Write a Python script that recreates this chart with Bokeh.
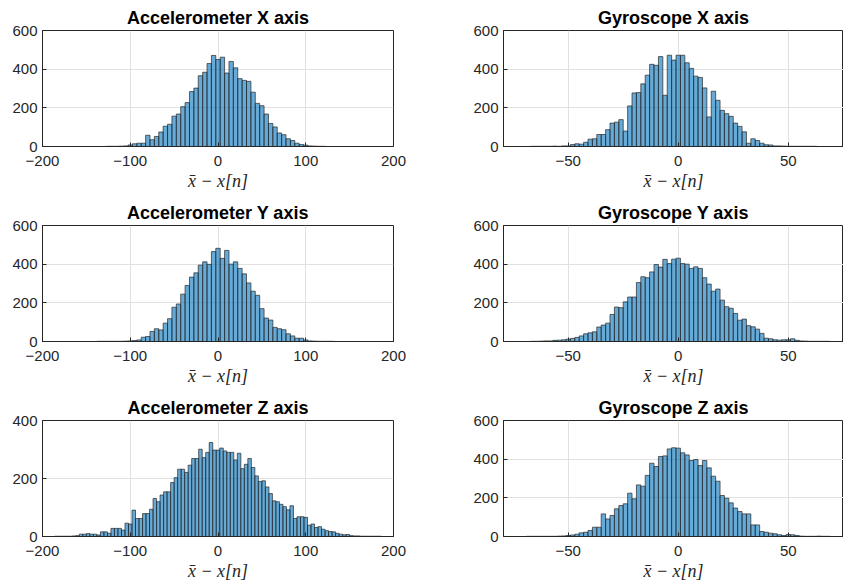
import numpy as np
from bokeh.plotting import figure
from bokeh.models import Range1d, FixedTicker
from bokeh.layouts import row, column
from bokeh.embed import file_html
from bokeh.resources import INLINE

# ---------------- data (histogram counts) ----------------
# Accelerometer X : bin width 5, first bin centred at -125
acc_x_first = -125
acc_x_bin = 5
acc_x_counts = [1, 1, 1, 2, 3, 8, 14, 17, 17, 58,
                35, 52, 75, 105, 115, 157, 168, 206, 227, 284,
                302, 366, 384, 429, 471, 450, 462, 380, 440, 407,
                351, 342, 337, 281, 223, 211, 168, 119, 101, 70,
                61, 40, 31, 17, 10, 7, 3, 2, 1, 1]

# Accelerometer Y : bin width 5, first bin centred at -135
acc_y_first = -135
acc_y_bin = 5
acc_y_counts = [1, 1, 1, 1, 1, 1, 2, 3, 5, 8,
                22, 26, 52, 66, 60, 95, 118, 177, 194, 245,
                290, 333, 355, 395, 412, 399, 465, 482, 430, 471,
                400, 412, 378, 350, 303, 260, 239, 170, 121, 111,
                73, 66, 61, 40, 29, 17, 17, 8, 3, 2,
                1, 1, 1, 1]

# Accelerometer Z : bin width 4, first bin centred at -184
acc_z_first = -184
acc_z_bin = 4
acc_z_counts = [1, 1, 1, 1, 1, 2, 3, 8, 8, 10,
                8, 8, 5, 16, 16, 11, 28, 28, 28, 22,
                46, 43, 91, 62, 62, 79, 79, 94, 131, 120,
                143, 154, 154, 186, 203, 232, 232, 221, 246, 269,
                269, 301, 272, 290, 324, 298, 298, 305, 295, 290,
                290, 264, 287, 234, 249, 269, 238, 209, 190, 192,
                171, 148, 123, 120, 111, 103, 92, 106, 62, 68,
                68, 66, 39, 43, 31, 34, 25, 20, 17, 16,
                11, 8, 6, 7, 3, 2, 2, 1, 1, 1,
                1, 1, 1]

# Gyroscope X : bin width 2, first bin centred at -66
gyr_x_first = -66
gyr_x_bin = 2
gyr_x_counts = [1, 1, 1, 1, 1, 2, 1, 3, 3, 10,
                14, 12, 22, 38, 40, 62, 62, 87, 121, 126,
                139, 80, 210, 277, 279, 324, 369, 425, 420, 465,
                265, 472, 447, 472, 472, 433, 404, 364, 357, 303,
                153, 286, 239, 187, 170, 156, 121, 104, 76, 17,
                40, 31, 17, 9, 8, 3, 3, 2, 1, 1,
                1, 1, 1, 1, 1]

# Gyroscope Y : bin width 2, first bin centred at -66
gyr_y_first = -66
gyr_y_bin = 2
gyr_y_counts = [1, 1, 2, 3, 3, 6, 7, 9, 12, 16,
                21, 29, 40, 45, 50, 75, 85, 95, 140, 178,
                175, 205, 230, 230, 305, 335, 330, 360, 398, 385,
                425, 403, 426, 431, 403, 400, 378, 386, 378, 330,
                297, 260, 271, 214, 180, 172, 145, 110, 116, 82,
                76, 64, 42, 17, 14, 9, 7, 9, 9, 14,
                6, 3, 2, 1, 1, 1, 1, 1]

# Gyroscope Z : bin width 2, first bin centred at -68
gyr_z_first = -68
gyr_z_bin = 2
gyr_z_counts = [1, 1, 1, 1, 1, 1, 1, 2, 3, 5,
                8, 12, 19, 22, 31, 48, 48, 117, 91, 109,
                143, 160, 169, 224, 195, 267, 260, 316, 379, 362,
                414, 417, 453, 459, 457, 433, 422, 393, 398, 367,
                393, 355, 312, 286, 212, 198, 174, 147, 129, 117,
                117, 60, 60, 26, 22, 17, 14, 9, 5, 10,
                9, 5, 2, 1, 1, 1, 2, 1, 1]

titles = ["Accelerometer X axis", "Gyroscope X axis",
          "Accelerometer Y axis", "Gyroscope Y axis",
          "Accelerometer Z axis", "Gyroscope Z axis"]
acc_xticks = [-200, -100, 0, 100, 200]
gyr_xticks = [-50, 0, 50]
yticks_600 = [0, 200, 400, 600]
yticks_400 = [0, 200, 400]
x_label = "x\u0304 \u2212 x[n]"

# ---------------- styling ----------------
AX = "#262626"
GRID = "#e1e1e1"
FILL = "#0072BD"
SANS = "Liberation Sans"


def make(title, first, binw, counts, xr, xticks, ymax, yticks, col, rowi):
    if col == 0:
        fw, lb, rb = 351, 42, 75
    else:
        fw, lb, rb = 340, 35, 0
    bb = 49 if rowi < 2 else 50
    p = figure(frame_width=fw, frame_height=116,
               x_range=Range1d(*xr), y_range=Range1d(0, ymax),
               output_backend="svg", toolbar_location=None,
               min_border_left=lb, min_border_right=rb,
               min_border_top=30, min_border_bottom=bb,
               title=title)
    p.background_fill_color = "white"
    p.border_fill_color = "white"
    p.outline_line_color = AX
    p.outline_line_width = 1

    p.title.align = "center"
    p.title.text_font = SANS
    p.title.text_font_size = "18px"
    p.title.text_font_style = "bold"
    p.title.text_color = "black"
    p.title.standoff = 5

    centers = first + binw * np.arange(len(counts))
    p.quad(left=centers - binw / 2, right=centers + binw / 2,
           bottom=0, top=counts,
           fill_color=FILL, fill_alpha=0.6,
           line_color=AX, line_width=0.7)

    p.xaxis.ticker = FixedTicker(ticks=xticks)
    p.yaxis.ticker = FixedTicker(ticks=yticks)
    for ax in (p.xaxis, p.yaxis):
        ax.major_tick_in = 4
        ax.major_tick_out = 0
        ax.minor_tick_line_color = None
        ax.axis_line_color = AX
        ax.major_tick_line_color = AX
        ax.major_label_text_color = AX
        ax.major_label_text_font = SANS
        ax.major_label_text_font_size = "15px"
    p.xaxis.major_label_standoff = 9
    p.yaxis.major_label_standoff = 5
    p.xaxis.axis_label = x_label
    p.xaxis.axis_label_text_font = "Liberation Serif"
    p.xaxis.axis_label_text_font_style = "italic"
    p.xaxis.axis_label_text_font_size = "18px"
    p.xaxis.axis_label_text_color = AX
    p.xaxis.axis_label_standoff = 2

    p.xgrid.grid_line_color = GRID
    p.ygrid.grid_line_color = GRID
    return p


acc_range = (-200, 200)
gyr_range = (-79.4, 75.1)

p1 = make(titles[0], acc_x_first, acc_x_bin, acc_x_counts, acc_range, acc_xticks, 600, yticks_600, 0, 0)
p2 = make(titles[1], gyr_x_first, gyr_x_bin, gyr_x_counts, gyr_range, gyr_xticks, 600, yticks_600, 1, 0)
p3 = make(titles[2], acc_y_first, acc_y_bin, acc_y_counts, acc_range, acc_xticks, 600, yticks_600, 0, 1)
p4 = make(titles[3], gyr_y_first, gyr_y_bin, gyr_y_counts, gyr_range, gyr_xticks, 600, yticks_600, 1, 1)
p5 = make(titles[4], acc_z_first, acc_z_bin, acc_z_counts, acc_range, acc_xticks, 400, yticks_400, 0, 2)
p6 = make(titles[5], gyr_z_first, gyr_z_bin, gyr_z_counts, gyr_range, gyr_xticks, 600, yticks_600, 1, 2)

layout = column(row(p1, p2, spacing=0), row(p3, p4, spacing=0), row(p5, p6, spacing=0), spacing=0)

open("out.html", "w").write(file_html(layout, INLINE))
